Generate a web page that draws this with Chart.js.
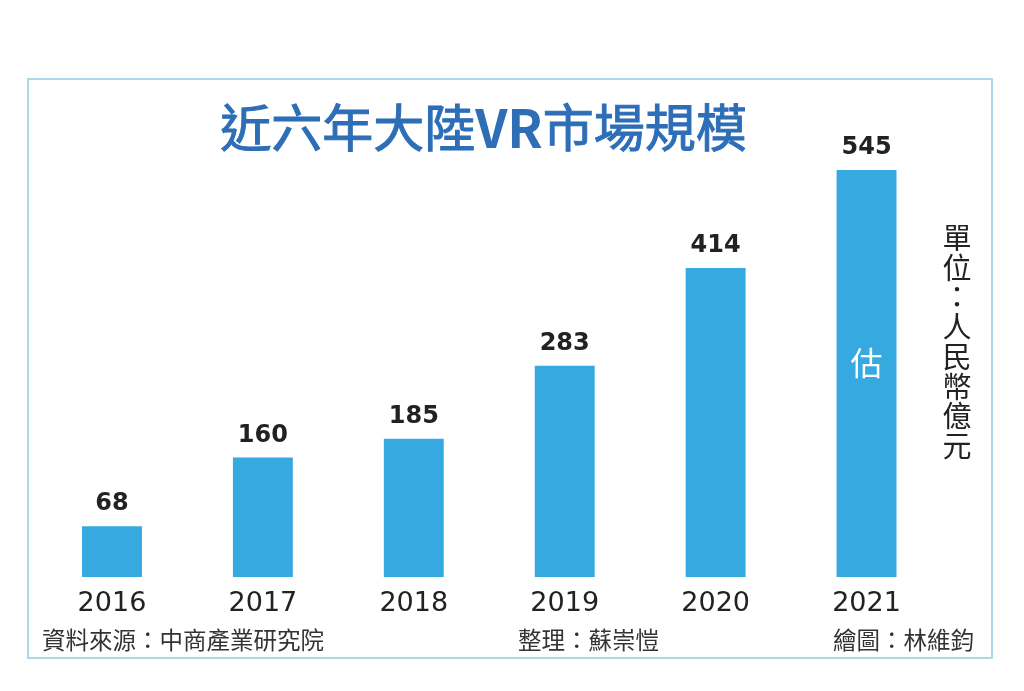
<!DOCTYPE html>
<html>
<head>
<meta charset="utf-8">
<script src="https://cdn.jsdelivr.net/npm/chart.js@4/dist/chart.umd.min.js"></script>
<style>
  html, body { margin: 0; padding: 0; background: #ffffff; }
  #wrap { width: 1024px; height: 691px; position: relative; }
  canvas { display: block; }
</style>
</head>
<body>
<div id="wrap"><canvas id="c" width="1024" height="691"></canvas></div>
<script>
const years = ['2016', '2017', '2018', '2019', '2020', '2021'];
const marketSize = [68, 160, 185, 283, 414, 545];
const barNotes = ['', '', '', '', '', '估'];
const titleParts = [['近六年大陸', false], ['VR', true], ['市場規模', false]];
const unitText = '單位：人民幣億元';
const sourceText = '資料來源：中商產業研究院';
const editorText = '整理：蘇崇愷';
const artistText = '繪圖：林維鈞';

const CJK = '"Noto Sans CJK TC", "Noto Sans CJK SC", sans-serif';
const NUM = '"DejaVu Sans", sans-serif';

const decorPlugin = {
  id: 'decor',
  beforeDraw(chart) {
    const ctx = chart.ctx;
    ctx.save();
    ctx.fillStyle = '#ffffff';
    ctx.fillRect(0, 0, chart.width, chart.height);
    ctx.strokeStyle = '#aad9e9';
    ctx.lineWidth = 2;
    ctx.strokeRect(28, 79, 964, 579);
    ctx.restore();
  },
  afterDatasetsDraw(chart) {
    const ctx = chart.ctx;
    const meta = chart.getDatasetMeta(0);
    const ys = chart.scales.y;
    ctx.save();
    // value labels
    ctx.textAlign = 'center';
    ctx.textBaseline = 'middle';
    meta.data.forEach((bar, i) => {
      ctx.fillStyle = '#222222';
      ctx.font = 'bold 24px ' + NUM;
      ctx.fillText(String(marketSize[i]), bar.x, bar.y - 22);
      if (barNotes[i]) {
        ctx.fillStyle = '#ffffff';
        ctx.font = '32px ' + CJK;
        const base = ys.getPixelForValue(0);
        ctx.fillText(barNotes[i], bar.x, (bar.y + base) / 2 - 11);
      }
    });
    // title (mixed weight)
    ctx.fillStyle = '#2d6eb7';
    ctx.strokeStyle = '#2d6eb7';
    ctx.lineWidth = 1;
    ctx.textAlign = 'left';
    const fontFor = (bold) => (bold ? 'bold 52px ' : 'normal 51px ') + CJK;
    let total = 0;
    titleParts.forEach(([t, b]) => { ctx.font = fontFor(b); total += ctx.measureText(t).width; });
    let tx = 483.5 - total / 2;
    titleParts.forEach(([t, b]) => {
      ctx.font = fontFor(b);
      ctx.fillText(t, tx, 128);
      if (!b) ctx.strokeText(t, tx, 128);
      tx += ctx.measureText(t).width;
    });
    // unit (vertical)
    ctx.textAlign = 'center';
    ctx.fillStyle = '#222222';
    ctx.font = '29px ' + CJK;
    Array.from(unitText).forEach((ch, k) => {
      ctx.fillText(ch, 957, 238 + k * 29.7);
    });
    // footer
    ctx.fillStyle = '#333333';
    ctx.font = '23.5px ' + CJK;
    ctx.textAlign = 'left';
    ctx.fillText(sourceText, 42, 640);
    ctx.fillText(editorText, 518, 640);
    ctx.fillText(artistText, 833, 640);
    ctx.restore();
  }
};

new Chart(document.getElementById('c'), {
  type: 'bar',
  data: {
    labels: years,
    datasets: [{
      data: marketSize,
      backgroundColor: '#36a9e1',
      borderWidth: 0,
      barPercentage: 0.397,
      categoryPercentage: 1.0
    }]
  },
  options: {
    responsive: false,
    animation: false,
    devicePixelRatio: 1,
    layout: { padding: { left: 36.5, right: 82, top: 129, bottom: 59.6 } },
    plugins: {
      legend: { display: false },
      tooltip: { enabled: false },
      title: { display: false }
    },
    scales: {
      x: {
        grid: { display: false, drawTicks: false },
        border: { display: false },
        ticks: {
          color: '#222222',
          font: { family: NUM, size: 27 },
          padding: 11,
          maxRotation: 0
        }
      },
      y: {
        display: false,
        min: 0,
        max: 600
      }
    }
  },
  plugins: [decorPlugin]
});
</script>
</body>
</html>
